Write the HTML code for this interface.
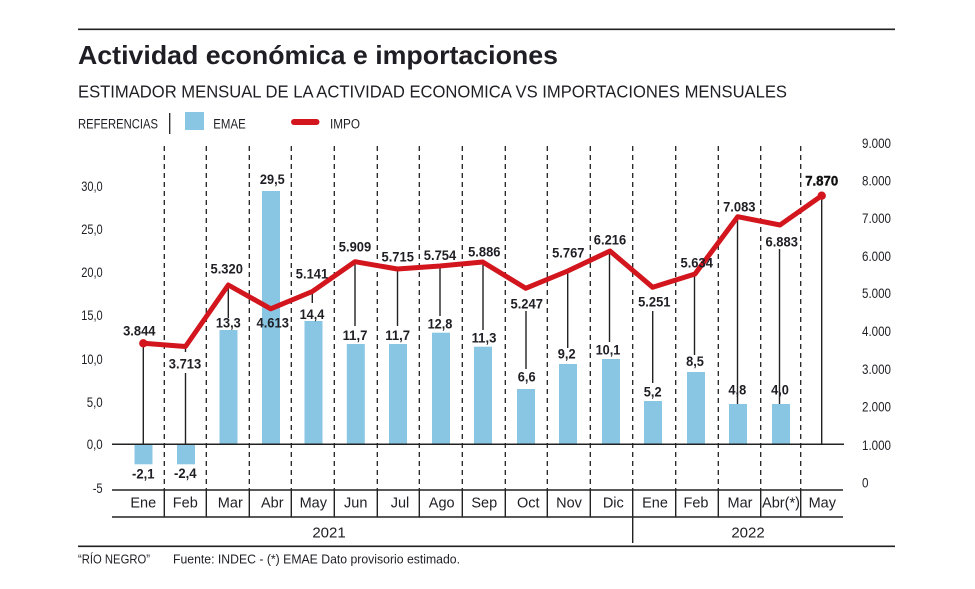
<!DOCTYPE html>
<html><head><meta charset="utf-8"><style>
html,body{margin:0;padding:0;background:#fff;}
svg{display:block;}
text{font-family:"Liberation Sans","DejaVu Sans",sans-serif;fill:#1e1e24;}
.l{font-size:14px;font-weight:bold;}
.ax{font-size:13.5px;}
.m{font-size:14.5px;}
</style></head><body>
<svg width="975" height="589" viewBox="0 0 975 589" xmlns="http://www.w3.org/2000/svg">
<rect width="975" height="589" fill="#fff"/>
<!-- rules -->
<line x1="78" y1="29.3" x2="895" y2="29.3" stroke="#222" stroke-width="1.6"/>
<line x1="78" y1="546.3" x2="895" y2="546.3" stroke="#222" stroke-width="1.6"/>
<!-- title -->
<text x="78" y="64" font-size="26" font-weight="bold" textLength="480" lengthAdjust="spacingAndGlyphs">Actividad económica e importaciones</text>
<text x="78" y="97.3" font-size="17.5" textLength="709" lengthAdjust="spacingAndGlyphs">ESTIMADOR MENSUAL DE LA ACTIVIDAD ECONOMICA VS IMPORTACIONES MENSUALES</text>
<!-- legend -->
<text x="78" y="128.3" font-size="13.5" textLength="80" lengthAdjust="spacingAndGlyphs">REFERENCIAS</text>
<line x1="169.7" y1="113" x2="169.7" y2="134" stroke="#222" stroke-width="1.3"/>
<rect x="185" y="112" width="19" height="18" fill="#88c6e3"/>
<text x="213.3" y="128.3" font-size="13.5" textLength="32.4" lengthAdjust="spacingAndGlyphs">EMAE</text>
<line x1="294" y1="122" x2="316.5" y2="122" stroke="#d3151d" stroke-width="6" stroke-linecap="round"/>
<text x="330" y="128.3" font-size="13.5" textLength="30" lengthAdjust="spacingAndGlyphs">IMPO</text>

<!-- dashed verticals -->
<g stroke="#222" stroke-width="1.3" stroke-dasharray="5,4">
<line x1="164.3" y1="146" x2="164.3" y2="490"/>
<line x1="206.3" y1="146" x2="206.3" y2="490"/>
<line x1="249.3" y1="146" x2="249.3" y2="490"/>
<line x1="291.3" y1="146" x2="291.3" y2="490"/>
<line x1="334.3" y1="146" x2="334.3" y2="490"/>
<line x1="377.3" y1="146" x2="377.3" y2="490"/>
<line x1="419.3" y1="146" x2="419.3" y2="490"/>
<line x1="462.3" y1="146" x2="462.3" y2="490"/>
<line x1="505.3" y1="146" x2="505.3" y2="490"/>
<line x1="547.3" y1="146" x2="547.3" y2="490"/>
<line x1="590.3" y1="146" x2="590.3" y2="490"/>
<line x1="632.7" y1="146" x2="632.7" y2="490"/>
<line x1="675.7" y1="146" x2="675.7" y2="490"/>
<line x1="718.3" y1="146" x2="718.3" y2="490"/>
<line x1="760.7" y1="146" x2="760.7" y2="490"/>
<line x1="800.7" y1="146" x2="800.7" y2="490"/>
</g>

<!-- bars -->
<g fill="#88c6e3">
<rect x="134.5" y="444.3" width="18" height="20"/>
<rect x="177" y="444.3" width="18" height="20"/>
<rect x="219.5" y="330" width="18" height="114.3"/>
<rect x="262" y="191" width="18" height="253.3"/>
<rect x="304.5" y="321" width="18" height="123.3"/>
<rect x="346.8" y="344" width="18" height="100.3"/>
<rect x="389" y="344" width="18" height="100.3"/>
<rect x="432" y="332.7" width="18" height="111.6"/>
<rect x="474" y="346.7" width="18" height="97.6"/>
<rect x="517" y="389" width="18" height="55.3"/>
<rect x="559" y="364" width="18" height="80.3"/>
<rect x="602" y="359" width="18" height="85.3"/>
<rect x="644" y="401" width="18" height="43.3"/>
<rect x="687" y="372" width="18" height="72.3"/>
<rect x="729" y="404" width="18" height="40.3"/>
<rect x="772" y="404" width="18" height="40.3"/>
</g>

<!-- connectors -->
<g stroke="#222" stroke-width="1.4">
<line x1="143.3" y1="343" x2="143.3" y2="444.3"/>
<line x1="185.5" y1="346" x2="185.5" y2="352"/>
<line x1="185.5" y1="373" x2="185.5" y2="444.3"/>
<line x1="228.3" y1="285" x2="228.3" y2="318"/>
<line x1="312.3" y1="291" x2="312.3" y2="303"/>
<line x1="355" y1="262" x2="355" y2="326"/>
<line x1="397.5" y1="269" x2="397.5" y2="326"/>
<line x1="440" y1="266" x2="440" y2="316"/>
<line x1="483" y1="262" x2="483" y2="330"/>
<line x1="526" y1="311" x2="526" y2="369"/>
<line x1="567.7" y1="271" x2="567.7" y2="348"/>
<line x1="609.5" y1="251" x2="609.5" y2="342"/>
<line x1="652.7" y1="311" x2="652.7" y2="383"/>
<line x1="694.5" y1="274" x2="694.5" y2="355"/>
<line x1="737.5" y1="217" x2="737.5" y2="404"/>
<line x1="779.5" y1="249" x2="779.5" y2="404"/>
<line x1="821.7" y1="196" x2="821.7" y2="444.3"/>
</g>

<!-- horizontal axis lines -->
<line x1="112" y1="444.3" x2="844" y2="444.3" stroke="#222" stroke-width="1.5"/>
<line x1="112" y1="490" x2="843" y2="490" stroke="#222" stroke-width="1.5"/>
<line x1="112" y1="517" x2="843" y2="517" stroke="#222" stroke-width="1.5"/>
<g stroke="#222" stroke-width="1.4">
<line x1="164.3" y1="490" x2="164.3" y2="517"/>
<line x1="206.3" y1="490" x2="206.3" y2="517"/>
<line x1="249.3" y1="490" x2="249.3" y2="517"/>
<line x1="291.3" y1="490" x2="291.3" y2="517"/>
<line x1="334.3" y1="490" x2="334.3" y2="517"/>
<line x1="377.3" y1="490" x2="377.3" y2="517"/>
<line x1="419.3" y1="490" x2="419.3" y2="517"/>
<line x1="462.3" y1="490" x2="462.3" y2="517"/>
<line x1="505.3" y1="490" x2="505.3" y2="517"/>
<line x1="547.3" y1="490" x2="547.3" y2="517"/>
<line x1="590.3" y1="490" x2="590.3" y2="517"/>
<line x1="632.7" y1="490" x2="632.7" y2="543"/>
<line x1="675.7" y1="490" x2="675.7" y2="517"/>
<line x1="718.3" y1="490" x2="718.3" y2="517"/>
<line x1="760.7" y1="490" x2="760.7" y2="517"/>
<line x1="800.7" y1="490" x2="800.7" y2="517"/>
</g>

<!-- red line -->
<polyline fill="none" stroke="#d3151d" stroke-width="5" stroke-linejoin="round" stroke-linecap="round"
 points="143.3,343.3 185.5,346.5 228.3,285 270.7,308.8 312.3,291.5 355,261.7 397.3,269 440,266 482.7,262 525.7,288.3 567.7,271 610,251 652.7,287.3 695,274 737.7,216.7 780,225 821.7,195.7"/>
<circle cx="143.3" cy="343.3" r="4.2" fill="#d3151d"/>
<circle cx="821.7" cy="195.7" r="4.2" fill="#d3151d"/>

<!-- left axis -->
<g class="ax" text-anchor="end">
<text x="102.7" y="191" textLength="21.5" lengthAdjust="spacingAndGlyphs">30,0</text>
<text x="102.7" y="234" textLength="21.5" lengthAdjust="spacingAndGlyphs">25,0</text>
<text x="102.7" y="277" textLength="21.5" lengthAdjust="spacingAndGlyphs">20,0</text>
<text x="102.7" y="320" textLength="21.5" lengthAdjust="spacingAndGlyphs">15,0</text>
<text x="102.7" y="364" textLength="21.5" lengthAdjust="spacingAndGlyphs">10,0</text>
<text x="102.7" y="407" textLength="16" lengthAdjust="spacingAndGlyphs">5,0</text>
<text x="102.7" y="449" textLength="16" lengthAdjust="spacingAndGlyphs">0,0</text>
<text x="102.7" y="493" textLength="10" lengthAdjust="spacingAndGlyphs">-5</text>
</g>
<!-- right axis -->
<g class="ax">
<text x="862" y="148" textLength="29" lengthAdjust="spacingAndGlyphs">9.000</text>
<text x="862" y="185.5" textLength="29" lengthAdjust="spacingAndGlyphs">8.000</text>
<text x="862" y="223" textLength="29" lengthAdjust="spacingAndGlyphs">7.000</text>
<text x="862" y="261" textLength="29" lengthAdjust="spacingAndGlyphs">6.000</text>
<text x="862" y="298" textLength="29" lengthAdjust="spacingAndGlyphs">5.000</text>
<text x="862" y="336" textLength="29" lengthAdjust="spacingAndGlyphs">4.000</text>
<text x="862" y="374" textLength="29" lengthAdjust="spacingAndGlyphs">3.000</text>
<text x="862" y="411.7" textLength="29" lengthAdjust="spacingAndGlyphs">2.000</text>
<text x="862" y="450" textLength="29" lengthAdjust="spacingAndGlyphs">1.000</text>
<text x="862" y="487.3" textLength="6.5" lengthAdjust="spacingAndGlyphs">0</text>
</g>

<!-- IMPO labels -->
<g class="l" text-anchor="middle">
<text x="139.3" y="335.7" textLength="32.4" lengthAdjust="spacingAndGlyphs">3.844</text>
<text x="185" y="368.3" textLength="32.4" lengthAdjust="spacingAndGlyphs">3.713</text>
<text x="226.7" y="273.3" textLength="32.4" lengthAdjust="spacingAndGlyphs">5.320</text>
<text x="272.7" y="327.7" textLength="32.4" lengthAdjust="spacingAndGlyphs">4.613</text>
<text x="312" y="278.3" textLength="32.4" lengthAdjust="spacingAndGlyphs">5.141</text>
<text x="355" y="251.7" textLength="32.4" lengthAdjust="spacingAndGlyphs">5.909</text>
<text x="397.7" y="261.7" textLength="32.4" lengthAdjust="spacingAndGlyphs">5.715</text>
<text x="440" y="260" textLength="32.4" lengthAdjust="spacingAndGlyphs">5.754</text>
<text x="484.3" y="256.7" textLength="32.4" lengthAdjust="spacingAndGlyphs">5.886</text>
<text x="526.7" y="308.3" textLength="32.4" lengthAdjust="spacingAndGlyphs">5.247</text>
<text x="568.3" y="257.7" textLength="32.4" lengthAdjust="spacingAndGlyphs">5.767</text>
<text x="610" y="244.3" textLength="32.4" lengthAdjust="spacingAndGlyphs">6.216</text>
<text x="654.3" y="306.7" textLength="32.4" lengthAdjust="spacingAndGlyphs">5.251</text>
<text x="696.7" y="267.7" textLength="32.4" lengthAdjust="spacingAndGlyphs">5.634</text>
<text x="739.3" y="211.7" textLength="32.4" lengthAdjust="spacingAndGlyphs">7.083</text>
<text x="781.7" y="246.7" textLength="32.4" lengthAdjust="spacingAndGlyphs">6.883</text>
<text x="821.7" y="185.7" textLength="33" lengthAdjust="spacingAndGlyphs" stroke="#111" stroke-width="0.4" style="fill:#111">7.870</text>
</g>
<!-- EMAE labels -->
<g class="l" text-anchor="middle">
<text x="143.3" y="478.3" textLength="22.5" lengthAdjust="spacingAndGlyphs">-2,1</text>
<text x="185.3" y="478" textLength="22.5" lengthAdjust="spacingAndGlyphs">-2,4</text>
<text x="228.3" y="327.7" textLength="24.8" lengthAdjust="spacingAndGlyphs">13,3</text>
<text x="272.3" y="184" textLength="24.8" lengthAdjust="spacingAndGlyphs">29,5</text>
<text x="312" y="319" textLength="24.8" lengthAdjust="spacingAndGlyphs">14,4</text>
<text x="355" y="340" textLength="24.8" lengthAdjust="spacingAndGlyphs">11,7</text>
<text x="397.7" y="340" textLength="24.8" lengthAdjust="spacingAndGlyphs">11,7</text>
<text x="440" y="328.3" textLength="24.8" lengthAdjust="spacingAndGlyphs">12,8</text>
<text x="484" y="342.3" textLength="24.8" lengthAdjust="spacingAndGlyphs">11,3</text>
<text x="526.7" y="381.7" textLength="17.8" lengthAdjust="spacingAndGlyphs">6,6</text>
<text x="566.7" y="358.3" textLength="17.8" lengthAdjust="spacingAndGlyphs">9,2</text>
<text x="608" y="354.3" textLength="24.8" lengthAdjust="spacingAndGlyphs">10,1</text>
<text x="652.7" y="396.7" textLength="17.8" lengthAdjust="spacingAndGlyphs">5,2</text>
<text x="695" y="366" textLength="17.8" lengthAdjust="spacingAndGlyphs">8,5</text>
<text x="737.3" y="394.3" textLength="17.8" lengthAdjust="spacingAndGlyphs">4,8</text>
<text x="780" y="394.3" textLength="17.8" lengthAdjust="spacingAndGlyphs">4,0</text>
</g>

<!-- month labels -->
<g class="m" text-anchor="middle">
<text x="143.3" y="507.3">Ene</text>
<text x="185.3" y="507.3">Feb</text>
<text x="230.3" y="507.3">Mar</text>
<text x="272.3" y="507.3">Abr</text>
<text x="313.3" y="507.3">May</text>
<text x="355.7" y="507.3">Jun</text>
<text x="400" y="507.3">Jul</text>
<text x="441.7" y="507.3">Ago</text>
<text x="484.3" y="507.3">Sep</text>
<text x="528.3" y="507.3">Oct</text>
<text x="569" y="507.3">Nov</text>
<text x="613.3" y="507.3">Dic</text>
<text x="655" y="507.3">Ene</text>
<text x="696" y="507.3">Feb</text>
<text x="740" y="507.3">Mar</text>
<text x="781" y="507.3" textLength="38" lengthAdjust="spacingAndGlyphs">Abr(*)</text>
<text x="822.3" y="507.3">May</text>
</g>
<text x="329" y="537.3" font-size="15" text-anchor="middle">2021</text>
<text x="748" y="537.3" font-size="15" text-anchor="middle">2022</text>

<!-- footer -->
<text x="78" y="563.3" font-size="12.5" textLength="72" lengthAdjust="spacingAndGlyphs">“RÍO NEGRO”</text>
<text x="173" y="563.3" font-size="12.5" textLength="287" lengthAdjust="spacingAndGlyphs">Fuente: INDEC - (*) EMAE Dato provisorio estimado.</text>
</svg>
</body></html>
